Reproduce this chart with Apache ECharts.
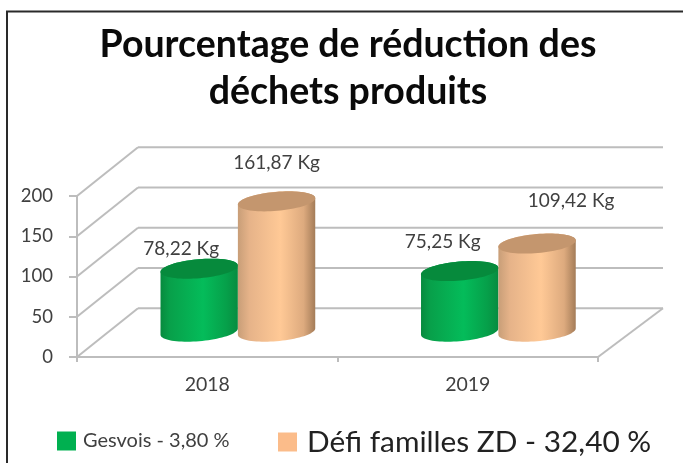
<!DOCTYPE html>
<html><head><meta charset="utf-8">
<style>html,body{margin:0;padding:0;background:#fff}#c{width:683px;height:463px;filter:blur(0.5px)}</style>
<script src="https://cdn.jsdelivr.net/npm/echarts@6/dist/echarts.min.js"></script>
</head><body><div id="c"></div>
<script>
const categories = ['2018', '2019'];
const gesvois = [78.22, 75.25];
const defi = [161.87, 109.42];
const yTicks = [0, 50, 100, 150, 200];
const titleText = 'Pourcentage de réduction des\ndéchets produits';
const nameGesvois = 'Gesvois - 3,80 %';
const nameDefi = 'Défi familles ZD - 32,40 %';

const FONT = 'Lato';
const DEPTH_X = 61, DEPTH_Y = -48.7;
const TILT = -5 * Math.PI / 180, RY = 9.5;
const BAR_RX = 0.149;
const greenLabelNudge = [[-18, -20], [-17, -29]];
const defiLabelNudge = [[0, -38], [34, -43]];

function ell(cx, cy, a, b, t) {
  const c = Math.cos(TILT), s = Math.sin(TILT);
  const x = a * Math.cos(t), y = b * Math.sin(t);
  return [cx + x * c - y * s, cy + x * s + y * c];
}
function cylinder(side, top, shift, nudges, textCol) {
  return function (params, api) {
    const i = api.value(0), v = api.value(1);
    const base = api.coord([i, 0]), head = api.coord([i, v]);
    const band = api.size([1, 0])[0];
    const a = band * BAR_RX;
    const cx = base[0] + DEPTH_X / 2 + shift * band;
    const by = base[1] + DEPTH_Y / 2 - 1, ty = head[1] + DEPTH_Y / 2 - 1;
    const t0 = Math.atan2(-RY * Math.sin(TILT), a * Math.cos(TILT));
    const sidePts = [], topPts = [];
    for (let k = 0; k <= 40; k++) {
      sidePts.push(ell(cx, by, a, RY, t0 + Math.PI * k / 40));
    }
    for (let k = 0; k <= 40; k++) {
      sidePts.push(ell(cx, ty, a, RY, t0 + Math.PI + Math.PI * k / 40));
    }
    for (let k = 0; k < 72; k++) topPts.push(ell(cx, ty, a, RY, k / 72 * 2 * Math.PI));
    const n = nudges[i];
    return {
      type: 'group',
      children: [
        { type: 'polygon', shape: { points: sidePts },
          style: { fill: new echarts.graphic.LinearGradient(0, 0, 1, 0, side) } },
        { type: 'polygon', shape: { points: topPts }, style: { fill: top } },
        { type: 'text', z2: 50,
          style: { x: cx + n[0], y: ty + n[1],
            text: v.toFixed(2).replace('.', ',') + ' Kg',
            fill: textCol, font: '19px ' + FONT, align: 'center', verticalAlign: 'middle' } }
      ]
    };
  };
}
function wallLines(params, api) {
  const v = api.value(0);
  const y = api.coord([0, v])[1];
  const L = params.coordSys.x, R = L + params.coordSys.width;
  const lineStyle = { stroke: '#BDBDBD', lineWidth: 2 };
  const kids = [
    { type: 'line', shape: { x1: L, y1: y, x2: L + DEPTH_X, y2: y + DEPTH_Y }, style: lineStyle },
    { type: 'line', shape: { x1: L + DEPTH_X, y1: y + DEPTH_Y, x2: R + DEPTH_X + 4, y2: y + DEPTH_Y }, style: lineStyle }
  ];
  if (v === 0) kids.push({ type: 'line', shape: { x1: R, y1: y, x2: R + DEPTH_X + 4, y2: y + DEPTH_Y }, style: lineStyle });
  return { type: 'group', children: kids };
}
const greenSide = [{ offset: 0, color: '#078A3E' }, { offset: .12, color: '#08A04A' }, { offset: .55, color: '#04BC5A' }, { offset: .85, color: '#06A04A' }, { offset: 1, color: '#078C40' }];
const peachSide = [{ offset: 0, color: '#C89E78' }, { offset: .15, color: '#E6B389' }, { offset: .55, color: '#FFC996' }, { offset: .85, color: '#DDAA7E' }, { offset: 1, color: '#A47C58' }];

const chart = echarts.init(document.getElementById('c'), null, { renderer: 'canvas' });
chart.setOption({
  animation: false,
  backgroundColor: '#fff',
  title: { text: titleText, left: 343, top: 16, textAlign: 'center',
    textStyle: { fontFamily: FONT, fontWeight: 'bold', fontSize: 37.5, lineHeight: 47, color: '#0A0A0A' } },
  grid: { left: 77, right: 85, top: 196, bottom: 106, containLabel: false },
  xAxis: { type: 'category', data: categories,
    axisLine: { lineStyle: { color: '#BDBDBD', width: 2 } },
    axisTick: { show: true, length: 5, lineStyle: { color: '#BDBDBD', width: 2 } },
    axisLabel: { fontFamily: FONT, fontSize: 19.5, color: '#404040', margin: 18 },
    splitLine: { show: false } },
  yAxis: { type: 'value', min: 0, max: 200, interval: 50,
    axisLine: { show: true, lineStyle: { color: '#BDBDBD', width: 2 } },
    axisTick: { show: true, length: 8, lineStyle: { color: '#BDBDBD', width: 2 } },
    axisLabel: { fontFamily: FONT, fontSize: 18.5, color: '#404040', margin: 24 },
    splitLine: { show: false } },
  legend: [
    { data: [nameGesvois], left: 57, top: 431, itemWidth: 19, itemHeight: 19, itemGap: 10, padding: 0, icon: 'rect',
      textStyle: { fontFamily: FONT, fontSize: 20, color: '#404040', padding: [0, 0, 0, 2] }, selectedMode: false },
    { data: [nameDefi], left: 278, top: 427, itemWidth: 19, itemHeight: 19, itemGap: 12, padding: 0, icon: 'rect',
      textStyle: { fontFamily: FONT, fontSize: 29.8, color: '#222', padding: [0, 0, 0, 5] }, selectedMode: false }
  ],
  graphic: [
    { type: 'polyline', silent: true, z: 100,
      shape: { points: [[7, 463], [7, 11.5], [683, 11.5]] },
      style: { stroke: '#2A2A2A', lineWidth: 2, fill: null } }
  ],
  series: [
    { type: 'custom', name: 'walls', coordinateSystem: 'cartesian2d', silent: true, clip: false, z: 1,
      data: yTicks.map(v => [v]), encode: { y: 0 }, renderItem: wallLines },
    { type: 'custom', name: nameGesvois, coordinateSystem: 'cartesian2d', clip: false, z: 3,
      itemStyle: { color: '#00B050' },
      data: gesvois.map((v, i) => [i, v]), encode: { x: 0, y: 1 },
      renderItem: cylinder(greenSide, '#068A3C', -0.148, greenLabelNudge, '#404040') },
    { type: 'custom', name: nameDefi, coordinateSystem: 'cartesian2d', clip: false, z: 4,
      itemStyle: { color: '#FBBC8A' },
      data: defi.map((v, i) => [i, v]), encode: { x: 0, y: 1 },
      renderItem: cylinder(peachSide, '#C4966E', 0.149, defiLabelNudge, '#404040') }
  ]
});
</script></body></html>
